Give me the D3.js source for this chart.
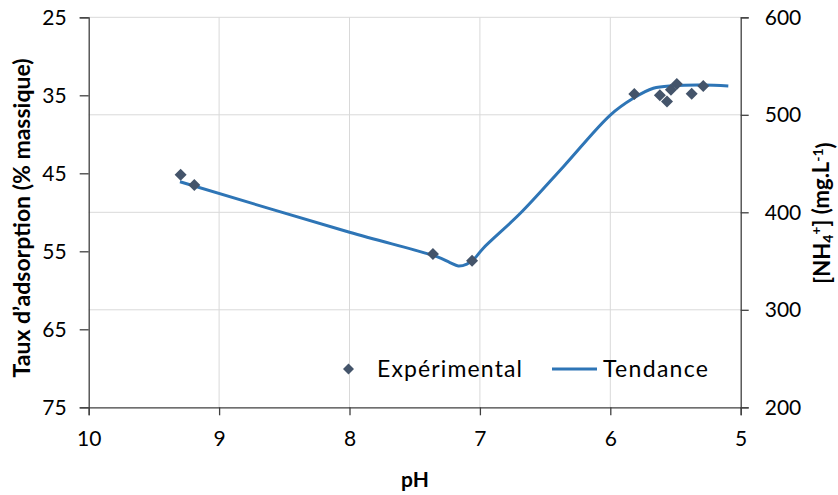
<!DOCTYPE html>
<html><head><meta charset="utf-8">
<script src="https://cdn.jsdelivr.net/npm/d3@7"></script>
<style>body{margin:0;background:#fff}text{font-family:Lato,"Open Sans",sans-serif;fill:#000}</style>
</head><body><svg id="c" width="838" height="495"></svg>
<script>
const xTicks = [10, 9, 8, 7, 6, 5];
const leftTicks = [25, 35, 45, 55, 65, 75];
const rightTicks = [200, 300, 400, 500, 600];
const expPH = [9.295, 9.19, 7.36, 7.06, 5.816, 5.62, 5.565, 5.535, 5.49, 5.376, 5.287];
const expVal = [45.2, 46.5, 55.35, 56.2, 34.83, 35.0, 35.8, 34.3, 33.55, 34.8, 33.8];
const trendPH = [9.30, 8.00, 7.33, 7.23, 7.166, 7.10, 7.04, 6.974, 6.69, 6.36, 6.00, 5.824, 5.67, 5.517, 5.287, 5.095];
const trendVal = [46.08, 52.56, 55.69, 56.44, 56.88, 56.63, 55.9, 54.6, 50.13, 44.15, 37.53, 35.38, 34.1, 33.77, 33.68, 33.81];
const legendLabels = ["Expérimental", "Tendance"];

const svg = d3.select("#c");
const L = 88.7, R = 740.7, T = 17.3, B = 407.3;
const x = d3.scaleLinear().domain([10, 5]).range([L, R]);
const yL = d3.scaleLinear().domain([25, 75]).range([T, B]);
const yR = d3.scaleLinear().domain([200, 600]).range([B, T]);
const grid = "#d9d9d9", axisC = "#404040";

// gridlines
svg.append("g").selectAll("line").data(rightTicks.filter(d => d > 200)).join("line")
  .attr("x1", L).attr("x2", R).attr("y1", d => yR(d)).attr("y2", d => yR(d))
  .attr("stroke", grid).attr("stroke-width", 1);
svg.append("g").selectAll("line").data(xTicks.filter(d => d < 10 && d > 5)).join("line")
  .attr("x1", d => x(d)).attr("x2", d => x(d)).attr("y1", T).attr("y2", B)
  .attr("stroke", grid).attr("stroke-width", 1);

function styleAxis(g) {
  g.select(".domain").attr("stroke", axisC).attr("stroke-width", 1.3);
  g.selectAll(".tick line").attr("stroke", axisC).attr("stroke-width", 1.3);
  g.selectAll(".tick text").style("font-size", "21px").attr("fill", "#000");
}
const gx = svg.append("g").attr("transform", `translate(0,${B})`)
  .call(d3.axisBottom(x).tickValues(xTicks).tickSizeOuter(0).tickSize(8).tickPadding(16).tickFormat(d3.format("d")));
styleAxis(gx);
const gl = svg.append("g").attr("transform", `translate(${L},0)`)
  .call(d3.axisLeft(yL).tickValues(leftTicks).tickSizeOuter(0).tickSize(9).tickPadding(13).tickFormat(d3.format("d")));
styleAxis(gl);
const gr = svg.append("g").attr("transform", `translate(${R},0)`)
  .call(d3.axisRight(yR).tickValues(rightTicks).tickSizeOuter(0).tickSize(8).tickPadding(16).tickFormat(d3.format("d")));
styleAxis(gr);

// trend line
const trend = trendPH.map((p, i) => [p, trendVal[i]]);
svg.append("path").datum(trend)
  .attr("d", d3.line().x(d => x(d[0])).y(d => yL(d[1])).curve(d3.curveCatmullRom.alpha(0.5)))
  .attr("fill", "none").attr("stroke", "#2e75b6").attr("stroke-width", 3);

// markers
const diamond = d3.symbol().type(d3.symbolSquare).size(72);
svg.append("g").selectAll("path").data(expPH.map((p, i) => [p, expVal[i]])).join("path")
  .attr("d", diamond)
  .attr("transform", d => `translate(${x(d[0])},${yL(d[1])}) rotate(45)`)
  .attr("fill", "#44546a");

// legend
svg.append("path").attr("d", d3.symbol().type(d3.symbolSquare).size(60))
  .attr("transform", "translate(348.5,369) rotate(45)").attr("fill", "#44546a");
svg.append("text").attr("x", 377).attr("y", 377).style("font-size", "23px")
  .attr("textLength", 145).attr("lengthAdjust", "spacing").text(legendLabels[0]);
svg.append("line").attr("x1", 552).attr("x2", 597).attr("y1", 369).attr("y2", 369)
  .attr("stroke", "#2e75b6").attr("stroke-width", 3);
svg.append("text").attr("x", 603).attr("y", 377).style("font-size", "23px")
  .attr("textLength", 105).attr("lengthAdjust", "spacing").text(legendLabels[1]);

// axis titles
svg.append("text").attr("x", 415).attr("y", 486.5).attr("text-anchor", "middle")
  .style("font-size", "21px").style("font-weight", "bold").text("pH");
svg.append("text").attr("transform", "translate(22,218) rotate(-90)").attr("dy", "0.35em").attr("text-anchor", "middle")
  .style("font-size", "23px").style("font-weight", "bold").text("Taux d’adsorption (% massique)");
const rt = svg.append("text").attr("transform", "translate(822,213) rotate(-90)").attr("dy", "0.35em").attr("text-anchor", "middle")
  .style("font-size", "22px").style("font-weight", "bold");
rt.append("tspan").text("[NH");
rt.append("tspan").attr("dy", "0.2em").style("font-size", "14px").text("4");
rt.append("tspan").attr("dy", "-0.85em").style("font-size", "14px").text("+");
rt.append("tspan").attr("dy", "0.4em").text("] (mg.L");
rt.append("tspan").attr("dy", "-0.45em").style("font-size", "14px").text("-1");
rt.append("tspan").attr("dy", "0.45em").text(")");
</script></body></html>
